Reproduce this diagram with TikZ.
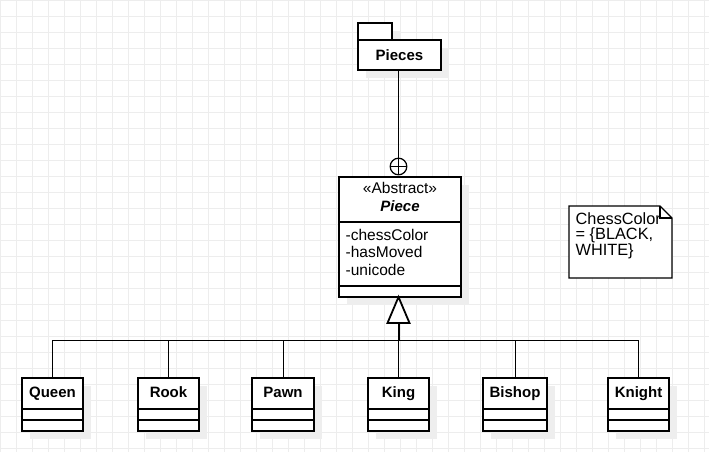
\documentclass[tikz,border=0pt]{standalone}
\usepackage{fontspec}
\setmainfont{Liberation Sans}
\definecolor{gridc}{HTML}{EDEDED}
\definecolor{shadowc}{HTML}{EEEEEE}
\tikzset{
  gridline/.style={draw=gridc, line width=0.9pt},
  boxline/.style={draw=black, line width=1.2pt},
  link/.style={draw=black, line width=1pt},
  cls/.style={draw=black, line width=1.2pt, fill=white, minimum height=53pt, inner sep=0pt, outer sep=0pt, anchor=north west},
  shadowfill/.style={fill=shadowc, draw=none},
  titletext/.style={font=\fontsize{15}{18}\selectfont\bfseries, inner sep=0pt, anchor=base},
  attrtext/.style={font=\fontsize{15.5}{18}\selectfont, inner sep=0pt, anchor=base west},
  notetext/.style={font=\fontsize{16.3}{14}\selectfont, inner sep=0pt, anchor=base west},
}
\newcommand\chessclass[4]{%
  \fill[shadowfill] (#2+8,386) rectangle ++(#3,53);
  \node[cls, minimum width=#3pt] (#1) at (#2,378) {};
  \draw[boxline] (#2,409) -- ++(#3,0) (#2,420) -- ++(#3,0);
  \node[titletext] (#1-t) at (#2+#3/2,397.5) {#4};
}
\begin{document}
\begin{tikzpicture}[x=1pt,y=-1pt]
\useasboundingbox (0,0) rectangle (709,452);
\fill[white] (0,0) rectangle (709,452);
% grid
\begin{scope}
\clip (0,0) rectangle (709,452);
\foreach \i in {0,...,44} \draw[gridline] (0.8+16*\i,0) -- (0.8+16*\i,452);
\foreach \j in {0,...,28} \draw[gridline] (0,0.8+16*\j) -- (709,0.8+16*\j);
\end{scope}

% package Pieces
\fill[shadowfill] (366,31) rectangle (400,48);
\fill[shadowfill] (366,48) rectangle (449,78);
\node[draw=black, line width=1.2pt, fill=white, minimum width=83pt, minimum height=30pt, inner sep=0pt, outer sep=0pt, anchor=north west] (pieces) at (358,40) {};
\draw[boxline, fill=white] (pieces.north west) rectangle ++(34,-17);
\node[titletext] (pieces-t) at (399.5,60.5) {Pieces};

% abstract class Piece
\fill[shadowfill] (347,185) rectangle (469,305);
\node[draw=black, line width=1.2pt, fill=white, minimum width=122pt, minimum height=120pt, inner sep=0pt, outer sep=0pt, anchor=north west] (piece) at (339,177) {};
\draw[boxline] (339,222) -- (461,222) (339,286) -- (461,286);
\node[font=\fontsize{15.5}{18}\selectfont, inner sep=0pt, anchor=base] (stereo) at (400,193.3) {«Abstract»};
\node[titletext, font=\fontsize{15}{18}\selectfont\bfseries\itshape] (piece-t) at (400,211) {Piece};
\node[attrtext] (a1) at (345.5,240) {-chessColor};
\node[attrtext] (a2) at (345.5,257.5) {-hasMoved};
\node[attrtext] (a3) at (345.5,275) {-unicode};

% composition
\node[draw=black, line width=1.2pt, fill=white, circle, minimum size=16.6pt, inner sep=0pt, outer sep=0pt] (comp) at (398.5,166.5) {};
\draw[link] (comp.north) -- (comp.south) (comp.west) -- (comp.east);
\draw[link] (pieces.south -| comp.north) -- (comp.north);

% note
\node[minimum width=103pt, minimum height=72pt, inner sep=0pt, outer sep=0pt, anchor=north west] (note) at (569,206) {};
\draw[boxline, fill=white, line join=miter] (note.north west) -- ([xshift=-12pt]note.north east) -- ([yshift=-12pt]note.north east) -- (note.south east) -- (note.south west) -- cycle;
\draw[boxline] ([xshift=-12pt]note.north east) -- ([xshift=-12pt,yshift=-12pt]note.north east) -- ([yshift=-12pt]note.north east);
\node[notetext] (n1) at (575.5,224.3) {ChessColor};
\node[notetext] (n2) at (575.5,239.9) {= \{BLACK,};
\node[notetext] (n3) at (575.5,255.5) {WHITE\}};

% subclasses
\chessclass{queen}{22}{61}{Queen}
\chessclass{rook}{138}{61}{Rook}
\chessclass{pawn}{252}{62}{Pawn}
\chessclass{king}{368}{61}{King}
\chessclass{bishop}{483}{64}{Bishop}
\chessclass{knight}{608}{61}{Knight}

% inheritance
\coordinate (bus) at (398.5,340);
\foreach \n in {queen,rook,pawn,king,bishop,knight} \draw[link] (bus) -| (\n.north);
\draw[line width=2pt] (piece.south -| king.north) ++(0,26) -- (bus);
\draw[line width=1.8pt, fill=white, line join=miter] (piece.south -| king.north) -- ++(-11,26) -- ++(22,0) -- cycle;
\end{tikzpicture}
\end{document}
